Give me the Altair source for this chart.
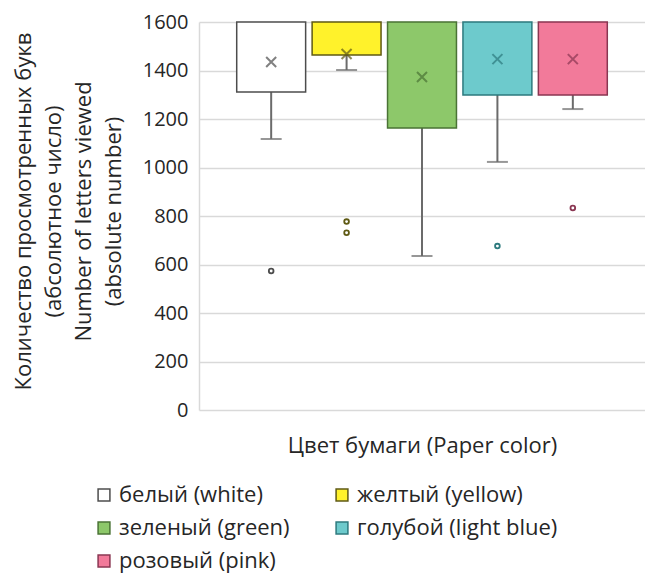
import altair as alt
import pandas as pd

# Paper colours (categories) and box statistics for letters viewed
categories = ["белый (white)", "желтый (yellow)", "зеленый (green)",
              "голубой (light blue)", "розовый (pink)"]
q1 = [1311, 1464, 1163, 1299, 1299]
q3 = [1600, 1600, 1600, 1600, 1600]
whisker_low = [1118, 1402, 635, 1023, 1241]
means = [1435, 1468, 1373, 1447, 1447]

# Outlier points
outlier_cat = ["белый (white)", "желтый (yellow)", "желтый (yellow)",
               "голубой (light blue)", "розовый (pink)"]
outlier_val = [573, 777, 731, 676, 833]

y_ticks = [0, 200, 400, 600, 800, 1000, 1200, 1400, 1600]

fills = ["#FFFFFF", "#FFF22B", "#8DC86A", "#6DCACC", "#F27A9A"]
strokes = ["#4D4D4D", "#5F5A14", "#4A7335", "#2D7A7E", "#8A3652"]

FONT = "Open Sans"
TEXT = "#262626"
GRID = "#D9D9D9"

boxes = pd.DataFrame({"cat": categories, "q1": q1, "q3": q3,
                      "low": whisker_low, "mean": means})
outliers = pd.DataFrame({"cat": outlier_cat, "val": outlier_val})

x_enc = alt.X(
    "cat:N", sort=categories,
    scale=alt.Scale(paddingInner=0.086, paddingOuter=0.5),
    axis=alt.Axis(labels=False, ticks=False, domain=False, grid=False,
                  title="Цвет бумаги (Paper color)", titleFontSize=22,
                  titleFont=FONT, titleColor=TEXT, titleFontWeight="normal",
                  titlePadding=25),
)
y_scale = alt.Scale(domain=[0, 1600], nice=False)
fill_scale = alt.Scale(domain=categories, range=fills)
stroke_scale = alt.Scale(domain=categories, range=strokes)

legend = alt.Legend(
    title=None, orient="none", legendX=-106, legendY=462,
    direction="horizontal", columns=2, columnPadding=41, rowPadding=11,
    symbolType="square", symbolSize=140, symbolStrokeWidth=1.5,
    labelFont=FONT, labelFontSize=22, labelColor=TEXT, labelOffset=4,
    labelLimit=400,
)

base = alt.Chart(boxes)

whisker = base.mark_rule(color="#6B6B6B", strokeWidth=2).encode(
    x=x_enc,
    y=alt.Y("low:Q", scale=y_scale,
            axis=alt.Axis(values=y_ticks, format="d",
                          title=["Количество просмотренных букв",
                                 "(абсолютное число)",
                                 "Number of letters viewed",
                                 "(absolute number)"],
                          titleFont=FONT, titleFontSize=22, titleColor=TEXT,
                          titleFontWeight="normal", titleLineHeight=30,
                          titleAngle=270, titleBaseline="alphabetic",
                          titleAlign="center", titleX=-169, titleY=189,
                          labelFont=FONT, labelFontSize=20, labelColor=TEXT,
                          labelPadding=11, ticks=False, grid=True,
                          gridColor=GRID, gridWidth=1.5,
                          domainColor=GRID, domainWidth=1.5)),
    y2="q1:Q",
)

cap = base.mark_tick(color="#6B6B6B", thickness=2, size=21).encode(
    x=alt.X("cat:N", sort=categories), y=alt.Y("low:Q", scale=y_scale),
)

box = base.mark_bar(strokeWidth=1.5).encode(
    x=alt.X("cat:N", sort=categories),
    y=alt.Y("q1:Q", scale=y_scale),
    y2="q3:Q",
    fill=alt.Fill("cat:N", sort=categories, scale=fill_scale, legend=legend),
    stroke=alt.Stroke("cat:N", sort=categories, scale=stroke_scale, legend=legend),
)

mean_mark = base.mark_point(
    shape="M-1,-1L1,1M-1,1L1,-1", size=100, strokeWidth=2, filled=False,
).encode(
    x=alt.X("cat:N", sort=categories),
    y=alt.Y("mean:Q", scale=y_scale),
    stroke=alt.Stroke("cat:N", sort=categories, scale=stroke_scale, legend=legend),
)

outlier_mark = alt.Chart(outliers).mark_point(
    shape="circle", size=22, strokeWidth=1.8, fill="white", fillOpacity=1,
).encode(
    x=alt.X("cat:N", sort=categories),
    y=alt.Y("val:Q", scale=y_scale),
    stroke=alt.Stroke("cat:N", sort=categories, scale=stroke_scale, legend=legend),
)

chart = (
    alt.layer(whisker, cap, box, mean_mark, outlier_mark)
    .properties(
        width=446, height=388,
        autosize=alt.AutoSizeParams(type="none"),
        padding={"left": 199, "top": 22, "right": 0, "bottom": 173},
        background="white",
    )
    .configure_view(stroke=None)
)

chart.save("out.html", embed_options={"renderer": "svg", "actions": False})
